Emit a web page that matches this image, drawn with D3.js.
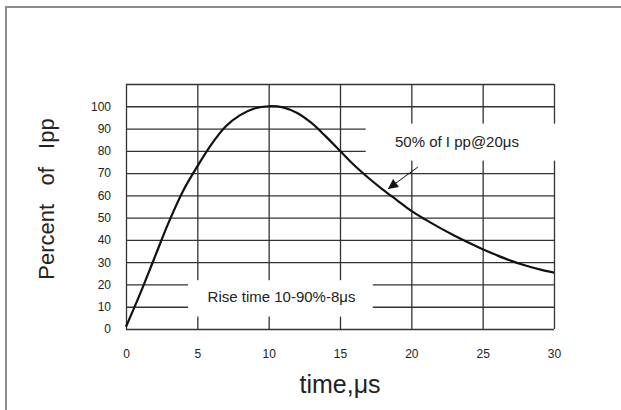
<!DOCTYPE html>
<html>
<head>
<meta charset="utf-8">
<script src="https://cdn.jsdelivr.net/npm/d3@7"></script>
<style>
  body { margin: 0; background: #fff; }
  text { font-family: "Liberation Sans", Arial, sans-serif; fill: #222; }
</style>
</head>
<body>
<div id="chart"></div>
<script>
// 8/20us surge waveform
var timeUs  = [0, 1, 2, 3, 4, 5, 6, 7, 8, 9, 10, 11, 12, 13, 14, 15,
               16, 17, 18, 19, 20, 21, 22, 23, 24, 25, 26, 27, 28, 29, 30];
var percent = [1, 16, 32, 48, 62, 73, 83, 91, 96, 99, 100, 99.5, 97, 92.5, 86.5, 80,
               73.5, 67.8, 62.6, 57.8, 53, 49.1, 45.4, 42, 38.8, 35.8, 33.1, 30.6, 28.5, 26.8, 25.3];

var xTicks = [0, 5, 10, 15, 20, 25, 30];
var yTicks = [0, 10, 20, 30, 40, 50, 60, 70, 80, 90, 100];

// annotation boxes in data units [t0, t1, v0, v1]
var peakBox = [16.8, 30.2, 75.6, 92.2];
var riseBox = [4.35, 17.3, 5.6, 21.9];
// arrow from label to curve, data units
var arrowFrom = [20.46, 72.7];
var arrowTo = [18.36, 62.9];

var width = 621, height = 410;
var margin = { top: 84, right: 67, bottom: 81, left: 126 };
var w = width - margin.left - margin.right,
    h = height - margin.top - margin.bottom;

var svg = d3.select("#chart").append("svg")
    .attr("width", width)
    .attr("height", height);

// outer frame
svg.append("rect")
    .attr("x", 6).attr("y", 7)
    .attr("width", 800).attr("height", 600)
    .attr("fill", "none")
    .attr("stroke", "#8c8c8c")
    .attr("stroke-width", 2);

var g = svg.append("g")
    .attr("transform", "translate(" + margin.left + "," + margin.top + ")");

var x = d3.scaleLinear().domain([0, 30]).range([0, w]);
var y = d3.scaleLinear().domain([0, 110]).range([h, 0]);

// grid
g.append("g")
    .attr("class", "grid-y")
    .call(d3.axisLeft(y).tickValues(d3.range(0, 111, 10)).tickSize(-w).tickFormat(""))
    .call(s => s.select(".domain").remove());

g.append("g")
    .attr("class", "grid-x")
    .attr("transform", "translate(0," + h + ")")
    .call(d3.axisBottom(x).tickValues(xTicks).tickSize(h).tickSizeInner(-h).tickFormat(""))
    .call(s => s.select(".domain").remove());

g.selectAll(".grid-y line, .grid-x line")
    .attr("stroke", "#333")
    .attr("stroke-width", 1.3);

// white boxes behind the labels
[peakBox, riseBox].forEach(function(b) {
    g.append("rect")
        .attr("x", x(b[0]))
        .attr("y", y(b[3]))
        .attr("width", x(b[1]) - x(b[0]))
        .attr("height", y(b[2]) - y(b[3]))
        .attr("fill", "#fff");
});

// tick labels
g.append("g")
    .attr("transform", "translate(0," + h + ")")
    .call(d3.axisBottom(x).tickValues(xTicks).tickSize(0).tickPadding(20))
    .call(s => s.select(".domain").remove())
    .selectAll("text")
    .style("font-size", "12px")
    .style("font-family", "Liberation Sans, Arial, sans-serif")
    .attr("fill", "#222");

g.append("g")
    .call(d3.axisLeft(y).tickValues(yTicks).tickSize(0).tickPadding(15))
    .call(s => s.select(".domain").remove())
    .selectAll("text")
    .style("font-size", "12px")
    .style("font-family", "Liberation Sans, Arial, sans-serif")
    .attr("fill", "#222");

// curve
var line = d3.line()
    .x((d, i) => x(timeUs[i]))
    .y(d => y(d))
    .curve(d3.curveCatmullRom);

g.append("path")
    .datum(percent)
    .attr("d", line)
    .attr("fill", "none")
    .attr("stroke", "#111")
    .attr("stroke-width", 2.2);

// arrow
svg.append("defs").append("marker")
    .attr("id", "head")
    .attr("viewBox", "0 0 10 10")
    .attr("refX", 10).attr("refY", 5)
    .attr("markerWidth", 14).attr("markerHeight", 10)
    .attr("markerUnits", "userSpaceOnUse")
    .attr("orient", "auto")
    .append("path")
    .attr("d", "M0,0L10,5L0,10z")
    .attr("fill", "#111");

g.append("line")
    .attr("x1", x(arrowFrom[0])).attr("y1", y(arrowFrom[1]))
    .attr("x2", x(arrowTo[0])).attr("y2", y(arrowTo[1]))
    .attr("stroke", "#111")
    .attr("stroke-width", 1)
    .attr("marker-end", "url(#head)");

// labels
g.append("text")
    .attr("x", x(23.2))
    .attr("y", y(81.7))
    .attr("text-anchor", "middle")
    .style("font-size", "15px")
    .text("50% of I pp@20\u03bcs");

g.append("text")
    .attr("x", x(10.9))
    .attr("y", y(12.1))
    .attr("text-anchor", "middle")
    .style("font-size", "15px")
    .text("Rise time 10-90%-8\u03bcs");

// axis titles
svg.append("text")
    .attr("transform", "translate(54,199) rotate(-90)")
    .attr("text-anchor", "middle")
    .style("font-size", "22px")
    .style("white-space", "pre")
    .text("Percent   of   Ipp");

svg.append("text")
    .attr("x", margin.left + w / 2)
    .attr("y", 393)
    .attr("text-anchor", "middle")
    .style("font-size", "25px")
    .text("time,\u03bcs");
</script>
</body>
</html>
